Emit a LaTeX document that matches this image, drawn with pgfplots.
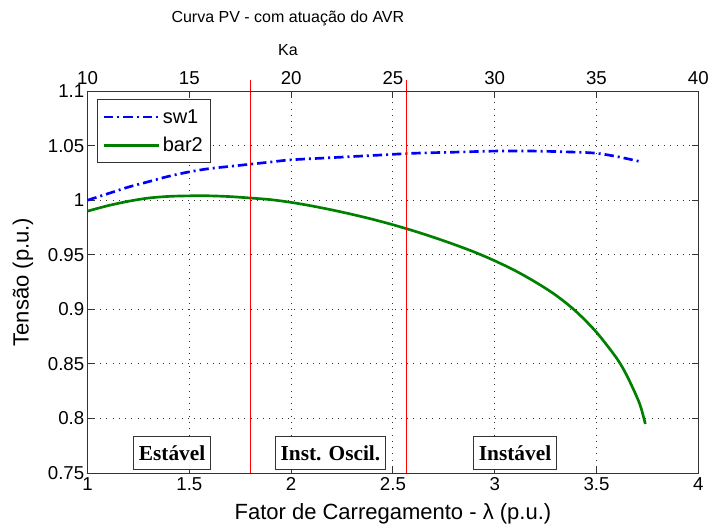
\documentclass[border=0pt]{standalone}
\usepackage{fontspec}
\setmainfont{Liberation Sans}
\newfontfamily\boxfont{Liberation Serif}
\usepackage{pgfplots}
\pgfplotsset{compat=1.18}
\definecolor{mgreen}{RGB}{0,128,0}
\definecolor{mred}{RGB}{255,0,0}
\begin{document}
\begin{tikzpicture}
\pgfplotsset{
  every tick label/.append style={font=\fontsize{14}{16}\selectfont},
  /pgf/number format/assume math mode=true,
}
\begin{axis}[
  at={(0,0)}, anchor=south west,
  scale only axis, width=458pt, height=286.5pt,
  xmin=1, xmax=4, ymin=0.75, ymax=1.1,
  xtick={1,1.5,2,2.5,3,3.5,4},
  xticklabels={1,1.5,2,2.5,3,3.5,4},
  ytick={0.75,0.8,0.85,0.9,0.95,1,1.05,1.1},
  yticklabels={0.75,0.8,0.85,0.9,0.95,1,1.05,1.1},
  yticklabel style={xshift=1pt},
  tick align=inside,
  major tick length=5pt,
  tick style={black!80, line width=0.8pt},
  axis line style={black!80, line width=0.8pt},
  grid=major,
  grid style={black!80, line width=0.7pt, dash pattern=on 0.7pt off 4pt},
  clip=false,
  xlabel={Fator de Carregamento - λ (p.u.)},
  ylabel={Tensão (p.u.)},
  xlabel style={font=\fontsize{16.5}{18}\selectfont, at={(axis description cs:0.5,-0.107)}, anchor=center},
  ylabel style={font=\fontsize{16.5}{18}\selectfont, at={(axis description cs:-0.106,0.5)}, anchor=center},
  legend style={at={(axis description cs:0.0154,0.978)}, anchor=north west,
    font=\fontsize{15}{17}\selectfont, draw=black!80, line width=0.7pt,
    inner xsep=4pt, inner ysep=5pt, row sep=5pt},
  legend cell align=left,
  legend image code/.code={\draw[#1] (0pt,0pt) -- (41pt,0pt);},
]
\addplot[blue, line width=2pt, smooth, dash pattern=on 7pt off 3pt on 1.5pt off 3pt] coordinates {
(1.0,1.000) (1.1,1.006) (1.2,1.012) (1.3,1.017) (1.4,1.022) (1.5,1.026)
(1.6,1.029) (1.7,1.031) (1.8,1.033) (1.9,1.035) (2.0,1.037) (2.2,1.039)
(2.4,1.041) (2.6,1.043) (2.8,1.044) (3.0,1.045) (3.2,1.045) (3.4,1.044)
(3.5,1.043) (3.6,1.040) (3.7,1.036) (3.72,1.035)
};
\addlegendentry{sw1}
\addplot[mgreen, line width=2pt, smooth] coordinates {
(1.0,0.990) (1.1,0.995) (1.2,0.999) (1.3,1.002) (1.4,1.0035) (1.5,1.004)
(1.6,1.004) (1.7,1.0033) (1.8,1.002) (1.9,1.0005) (2.0,0.998) (2.1,0.9948)
(2.2,0.9911) (2.3,0.987) (2.4,0.9825) (2.5,0.9775) (2.6,0.972) (2.7,0.966)
(2.8,0.9595) (2.9,0.9525) (3.0,0.9445) (3.1,0.9355) (3.2,0.925) (3.3,0.913)
(3.4,0.898) (3.5,0.879) (3.6,0.855) (3.65,0.839) (3.7,0.819) (3.72,0.809)
(3.74,0.795)
};
\addlegendentry{bar2}
\addplot[draw=mred, line width=0.9pt, forget plot] coordinates {(1.8,0.75) (1.8,1.11)};
\addplot[draw=mred, line width=0.9pt, forget plot] coordinates {(2.565,0.75) (2.565,1.11)};
\node[draw=black!80, line width=0.7pt, fill=white, font=\boxfont\bfseries\fontsize{16}{18}\selectfont, inner xsep=4pt, minimum height=25pt] at (axis cs:1.415,0.7683) {Estável};
\node[draw=black!80, line width=0.7pt, fill=white, font=\boxfont\bfseries\fontsize{16}{18}\selectfont, inner xsep=4pt, minimum height=25pt] at (axis cs:2.193,0.7683) {Inst. Oscil.};
\node[draw=black!80, line width=0.7pt, fill=white, font=\boxfont\bfseries\fontsize{16}{18}\selectfont, inner xsep=4pt, minimum height=25pt] at (axis cs:3.10,0.7683) {Instável};
\end{axis}
\begin{axis}[
  at={(0,0)}, anchor=south west,
  scale only axis, width=458pt, height=286.5pt,
  xmin=10, xmax=40, ymin=0, ymax=1,
  axis x line*=top, axis y line=none,
  xtick={10,15,20,25,30,35,40},
  xticklabels={10,15,20,25,30,35,40},
  xticklabel style={yshift=1.5pt},
  tick align=inside,
  major tick length=5pt,
  tick style={black!80, line width=0.8pt},
  axis line style={black!80, line width=0.8pt},
  clip=false,
]
\node[font=\fontsize{12}{14}\selectfont] at (rel axis cs:0.328,1.107) {Ka};
\node[font=\fontsize{12}{14}\selectfont] at (rel axis cs:0.328,1.191) {Curva PV - com atuação do AVR};
\end{axis}
\pgfresetboundingbox
\path[use as bounding box] (-65.7pt,-43.5pt) rectangle (465.3pt,354.8pt);
\end{tikzpicture}
\end{document}
